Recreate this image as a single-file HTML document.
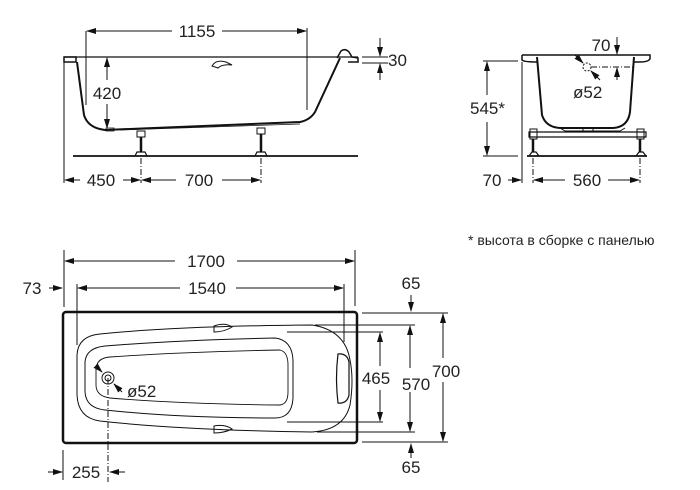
<!DOCTYPE html>
<html><head><meta charset="utf-8"><style>
html,body{margin:0;padding:0;background:#fff;}
svg{display:block;}
text{font-family:"Liberation Sans",Arial,sans-serif;fill:#222;}
</style></head><body>
<svg width="700" height="490" viewBox="0 0 700 490" xmlns="http://www.w3.org/2000/svg">
<defs>
<marker id="a" markerWidth="10" markerHeight="8" refX="9" refY="4" orient="auto" markerUnits="userSpaceOnUse"><path d="M0,1 L10,4 L0,7 Z" fill="#111"/></marker>
</defs>
<g stroke="#111" fill="none" stroke-width="1">
<!-- SIDE VIEW -->
<path d="M64,57 H358" stroke-width="1.2"/>
<path d="M64,57 h12 v5 h-12 z" stroke-width="1.5"/>
<path d="M77,62 L84,115 Q88,128 105,130 L300,122 Q310,120 315,112 L340,58" stroke-width="2"/>
<path d="M337,58 L341,51 Q345,48 349,52 L352,57 L358,58 v4 H348" stroke-width="1.5"/>
<path d="M120,130 L300,124" stroke-width="0.8"/>
<path d="M73,156 H358" stroke-width="1.8"/>
<rect x="137" y="131" width="8" height="6" stroke-width="1"/>
<rect x="257" y="128" width="8" height="6" stroke-width="1"/>
<path d="M141,137 V152 M261,134 V152" stroke-width="2.5"/>
<path d="M135,156 L137,152 H145 L147,156 M255,156 L257,152 H265 L267,156" stroke-width="1.2"/>
<path d="M106,128 h8 v3 h-8z" stroke-width="0.8"/>
<path d="M212,66 Q216,59 226,62 L232,65 Q222,64 218,68 Z" stroke-width="1"/>
<!-- 1155 -->
<path d="M86,31 V105 M307,28 V110"/>
<path d="M172,31 H87" marker-end="url(#a)"/><path d="M222,31 H306" marker-end="url(#a)"/>
<!-- 420 -->
<path d="M107,80 V58" marker-end="url(#a)"/><path d="M107,104 V128" marker-end="url(#a)"/>
<!-- 30 -->
<path d="M362,57 H388 M362,63 H388"/>
<path d="M380,38 V56" marker-end="url(#a)"/><path d="M380,80 V64" marker-end="url(#a)"/>
<!-- 450 / 700 -->
<path d="M64,62 V183"/>
<path d="M141,158 V183 M261,158 V183" stroke-dasharray="6,2,1,2"/>
<path d="M80,180 H65" marker-end="url(#a)"/><path d="M123,180 H140" marker-end="url(#a)"/>
<path d="M176,180 H142" marker-end="url(#a)"/><path d="M222,180 H260" marker-end="url(#a)"/>

<!-- END VIEW -->
<path d="M522,55 H650 L650,59 Q648,62 640,62 L634,62" stroke-width="1.5"/>
<path d="M522,55 L522,60 Q524,62 537,62" stroke-width="1.5"/>
<path d="M537,57 L542,115 Q546,128 562,128 L613,128 Q628,127 630,112 L634,57" stroke-width="2"/>
<path d="M560,128 L565,131 H620 L625,128 M583,128 v4 h10 v-4" stroke-width="1"/>
<path d="M529,132 H646 V137 H529 Z" stroke-width="1.2"/>
<rect x="530" y="129" width="7" height="10" stroke-width="1"/>
<rect x="637" y="129" width="7" height="10" stroke-width="1"/>
<path d="M533,139 V152 M640,139 V152" stroke-width="2.5"/>
<path d="M527,156 H647" stroke-width="1.8"/>
<path d="M529,156 L532,152 H536 L539,156 M636,156 L639,152 H643 L646,156" stroke-width="1.2"/>
<circle cx="587" cy="67" r="4" stroke-dasharray="2,1.5"/>
<path d="M591,67 H635" stroke-dasharray="6,2,1,2"/>
<path d="M575,55 L583,63" marker-end="url(#a)"/><path d="M600,80 L591,71" marker-end="url(#a)"/>
<path d="M617,37 V54" marker-end="url(#a)"/><path d="M617,80 V68" marker-end="url(#a)"/>
<path d="M483,61 H518 M483,156 H518"/>
<path d="M487,95 V62" marker-end="url(#a)"/><path d="M487,122 V155" marker-end="url(#a)"/>
<path d="M522,62 V183"/>
<path d="M508,180 H521" marker-end="url(#a)"/>
<path d="M533,158 V183 M640,158 V183" stroke-dasharray="6,2,1,2"/>
<path d="M565,180 H534" marker-end="url(#a)"/><path d="M608,180 H639" marker-end="url(#a)"/>

<!-- TOP VIEW -->
<rect x="63" y="312" width="294" height="131" rx="3" stroke-width="2.5"/>
<path d="M100,334 Q180,326 312,325 Q345,330 350,360 Q354,380 350,405 Q344,430 312,432 Q180,430 100,421 Q78,418 77,395 L77,355 Q78,336 100,334 Z" stroke-width="1"/>
<path d="M105,346 Q180,340 275,338 Q292,340 293,360 L293,398 Q292,418 275,418 Q180,418 105,410 Q86,408 85,392 L85,362 Q86,348 105,346 Z" stroke-width="1"/>
<path d="M110,357 Q180,352 280,350 Q288,352 288,365 L288,392 Q288,404 280,405 Q180,404 110,398 Q96,396 96,385 L96,370 Q96,358 110,357 Z" stroke-width="0.9"/>
<path d="M214,326 Q225,322 232,327 Q224,332 214,332 Z M214,426 Q225,424 232,429 Q224,433 214,433 Z" stroke-width="1"/>
<path d="M338,354 Q347,353 349,362 L349,395 Q347,404 338,403 Q335,378 338,354 Z" stroke-width="1.2"/>
<circle cx="108" cy="378" r="6"/><circle cx="108" cy="378" r="3"/>
<path d="M108,378 V482" stroke-dasharray="6,2,1,2"/>
<path d="M96,366 L102,372" marker-end="url(#a)"/><path d="M122,392 L114,384" marker-end="url(#a)"/>
<!-- 1700 / 1540 -->
<path d="M64,250 V307 M355,250 V306 M77,284 V345 M344,284 V342"/>
<path d="M175,261 H65" marker-end="url(#a)"/><path d="M237,261 H354" marker-end="url(#a)"/>
<path d="M180,288 H78" marker-end="url(#a)"/><path d="M236,288 H343" marker-end="url(#a)"/>
<path d="M49,288 H62" marker-end="url(#a)"/>
<!-- 255 -->
<path d="M63,450 V480"/>
<path d="M48,472 H62" marker-end="url(#a)"/><path d="M125,472 H110" marker-end="url(#a)"/>
<!-- right dims -->
<path d="M362,313 H448 M315,325 H415 M287,332 H383 M287,422 H383 M317,432 H415 M362,442 H448"/>
<path d="M380,366 V333" marker-end="url(#a)"/><path d="M380,390 V421" marker-end="url(#a)"/>
<path d="M410,368 V326" marker-end="url(#a)"/><path d="M410,392 V431" marker-end="url(#a)"/>
<path d="M443,358 V314" marker-end="url(#a)"/><path d="M443,382 V441" marker-end="url(#a)"/>
<path d="M411,295 V311" marker-end="url(#a)"/><path d="M411,458 V444" marker-end="url(#a)"/>
</g>
<g font-size="17">
<text x="197" y="37" text-anchor="middle">1155</text>
<text x="107" y="99" text-anchor="middle">420</text>
<text x="388" y="66">30</text>
<text x="101" y="186" text-anchor="middle">450</text>
<text x="199" y="186" text-anchor="middle">700</text>
<text x="601" y="51" text-anchor="middle">70</text>
<text x="573" y="98">ø52</text>
<text x="470" y="114">545*</text>
<text x="492" y="186" text-anchor="middle">70</text>
<text x="587" y="186" text-anchor="middle">560</text>
<text x="206" y="267" text-anchor="middle">1700</text>
<text x="207" y="294" text-anchor="middle">1540</text>
<text x="32" y="294" text-anchor="middle">73</text>
<text x="127" y="397">ø52</text>
<text x="86" y="478" text-anchor="middle">255</text>
<text x="376" y="384" text-anchor="middle">465</text>
<text x="416" y="390" text-anchor="middle">570</text>
<text x="446" y="377" text-anchor="middle">700</text>
<text x="411" y="289" text-anchor="middle">65</text>
<text x="411" y="473" text-anchor="middle">65</text>
</g>
<text x="468" y="245" font-size="14">* высота в сборке с панелью</text>
</svg>
</body></html>
